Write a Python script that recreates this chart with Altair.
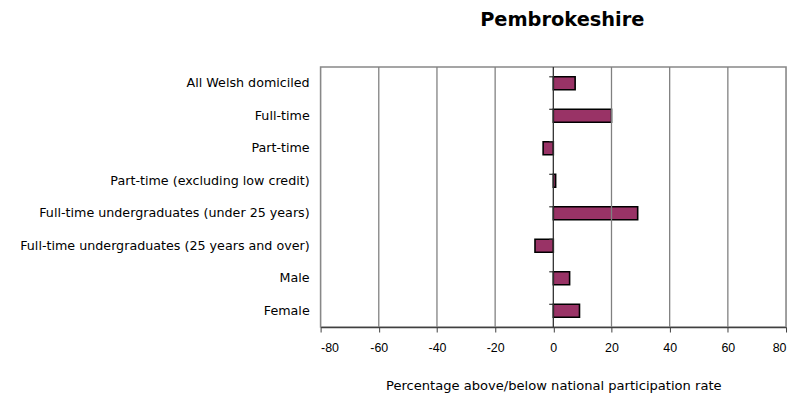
import altair as alt
import pandas as pd

categories = [
    "All Welsh domiciled",
    "Full-time",
    "Part-time",
    "Part-time (excluding low credit)",
    "Full-time undergraduates (under 25 years)",
    "Full-time undergraduates (25 years and over)",
    "Male",
    "Female",
]
values = [7.5, 20.0, -3.5, 0.8, 29.0, -6.3, 5.6, 9.0]
x_ticks = [-80, -60, -40, -20, 0, 20, 40, 60, 80]
grid_values = [-60, -40, -20, 20, 40, 60]

df = pd.DataFrame({"cat": categories, "val": values})
grid_df = pd.DataFrame({"g": grid_values})
tick_df = pd.DataFrame({"cat": categories, "x0": [-1.4] * len(categories), "x1": [0.0] * len(categories)})
label_df = pd.DataFrame({"cat": categories, "left": [-80] * len(categories)})

FONT = "Liberation Sans"
WIDE = "DejaVu Sans"
xscale = alt.Scale(domain=[-80, 80], nice=False, zero=False)
yscale = alt.Scale(domain=categories, paddingInner=0.6, paddingOuter=0.3)

grid = alt.Chart(grid_df).mark_rule(color="#808080", strokeWidth=1.3).encode(
    x=alt.X("g:Q", scale=xscale),
)

bars = alt.Chart(df).mark_bar(color="#993366", stroke="black", strokeWidth=1.6).encode(
    x=alt.X(
        "val:Q",
        scale=xscale,
        axis=alt.Axis(
            values=x_ticks,
            labelExpr="datum.value + ''",
            title="Percentage above/below national participation rate",
            titleFont=WIDE,
            titleFontSize=13.2,
            titleFontWeight="normal",
            titleColor="black",
            titlePadding=25,
            labelFont=FONT,
            labelFontSize=12.5,
            labelColor="black",
            labelPadding=10,
            tickColor="#404040",
            tickSize=5,
            domainColor="#404040",
            domainWidth=1.3,
            grid=False,
        ),
    ),
    x2=alt.datum(0),
    y=alt.Y("cat:N", scale=yscale, sort=categories, axis=None),
)

labels = alt.Chart(label_df).mark_text(
    align="right", baseline="middle", dx=-11, font=WIDE, fontSize=12.8, color="black"
).encode(
    x=alt.X("left:Q", scale=xscale),
    y=alt.Y("cat:N", scale=yscale, sort=categories, axis=None),
    text="cat:N",
)

zero_line = alt.Chart(pd.DataFrame({"z": [0]})).mark_rule(color="#303030", strokeWidth=1.3).encode(
    x=alt.X("z:Q", scale=xscale),
)

cat_ticks = alt.Chart(tick_df).mark_rule(color="#303030", strokeWidth=1.2).encode(
    x=alt.X("x0:Q", scale=xscale),
    x2="x1:Q",
    y=alt.Y("cat:N", scale=yscale, sort=categories, bandPosition=0, axis=None),
)

chart = (
    alt.layer(bars, grid, zero_line, cat_ticks, labels)
    .properties(
        width=469,
        height=262,
        title=alt.TitleParams(
            "Pembrokeshire",
            font=WIDE,
            fontSize=19.5,
            fontWeight="bold",
            color="black",
            offset=36,
            dx=9,
            anchor="middle",
        ),
        autosize=alt.AutoSizeParams(type="none"),
        padding={"left": 315, "top": 58, "right": 4, "bottom": 70},
    )
    .configure_view(stroke="#888888", strokeWidth=1.6)
)

chart.save("out.html", embed_options={"renderer": "svg", "actions": False})
